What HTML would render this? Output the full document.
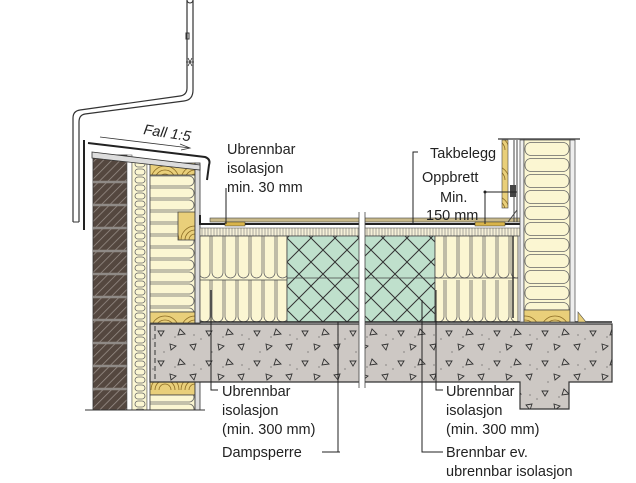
<!DOCTYPE html>
<html><head><meta charset="utf-8"><style>
html,body{margin:0;padding:0;background:#fff;width:636px;height:483px;overflow:hidden}
svg{display:block}
text{font-family:"Liberation Sans",Arial,sans-serif;font-size:14.5px;fill:#222}
</style></head><body>
<svg width="636" height="483" viewBox="0 0 636 483" xmlns="http://www.w3.org/2000/svg">
<defs>
<pattern id="brick" width="6" height="6" patternUnits="userSpaceOnUse" patternTransform="rotate(45)">
<rect width="6" height="6" fill="#54473f"/><line x1="0" y1="0" x2="0" y2="6" stroke="#9a908a" stroke-width="1.5"/>
</pattern>
<pattern id="cross" width="24" height="24" patternUnits="userSpaceOnUse" x="287" y="238">
<rect width="24" height="24" fill="#bfe0cc"/>
<path d="M0 0L24 24M24 0L0 24" stroke="#333" stroke-width="1"/>
</pattern>
<pattern id="conc" width="48" height="30" patternUnits="userSpaceOnUse" x="150" y="325">
<rect width="48" height="30" fill="#cdc8c4"/>
<path d="M8 6l6 0-3 5z M30 4l5 5-7 1z M20 19l6 2-5 4z M40 20l6-1-2 6z" fill="none" stroke="#333" stroke-width="0.9"/>
<circle cx="3" cy="14" r="0.6" fill="#555"/><circle cx="25" cy="12" r="0.6" fill="#555"/><circle cx="44" cy="10" r="0.6" fill="#555"/><circle cx="14" cy="27" r="0.6" fill="#555"/>
</pattern>
<pattern id="insV" width="13" height="44" patternUnits="userSpaceOnUse" x="198" y="236">
<rect width="13" height="44" fill="#fbf6d2"/>
<rect x="1" y="-8" width="11" height="50" rx="5.5" fill="none" stroke="#666" stroke-width="0.8"/>
</pattern>
<pattern id="insH" width="46" height="12" patternUnits="userSpaceOnUse" x="150" y="175">
<rect width="46" height="12" fill="#fbf6d2"/>
<rect x="-6" y="1" width="50" height="10" rx="5" fill="none" stroke="#666" stroke-width="0.8"/>
</pattern>
<pattern id="insS" width="14" height="8" patternUnits="userSpaceOnUse" x="133" y="160">
<rect width="14" height="8" fill="#fbf6d2"/>
<rect x="2" y="1" width="10" height="6" rx="3" fill="none" stroke="#666" stroke-width="0.8"/>
</pattern>
<pattern id="insR" width="46" height="16" patternUnits="userSpaceOnUse" x="524" y="141">
<rect width="46" height="16" fill="#fbf6d2"/>
<rect x="1" y="1.5" width="44" height="13" rx="6" fill="none" stroke="#666" stroke-width="0.8"/>
</pattern>
<pattern id="wood" width="30" height="30" patternUnits="userSpaceOnUse">
<rect width="30" height="30" fill="#e9cf7a"/>
<path d="M5 30a10 10 0 0 1 20 0M9 30a6 6 0 0 1 12 0M1 30a14 14 0 0 1 28 0" fill="none" stroke="#8a6a22" stroke-width="0.8"/>
</pattern>
<pattern id="tick" width="3" height="6" patternUnits="userSpaceOnUse">
<rect width="3" height="6" fill="#f6f0d8"/><line x1="1" y1="0" x2="1" y2="6" stroke="#777" stroke-width="0.6"/>
</pattern>
</defs>

<!-- downpipe -->
<path d="M187 0 V88 Q187 95 180 96 L80 110 Q73 111 73 118 V222" fill="none" stroke="#333" stroke-width="1.2"/>
<path d="M193 0 V90 Q193 100 184 101 L85 114 Q79 115 79 122 V222" fill="none" stroke="#333" stroke-width="1.2"/>
<line x1="73" y1="222" x2="79" y2="222" stroke="#333"/>
<rect x="186" y="33" width="3" height="6" fill="none" stroke="#333"/>
<path d="M186 62h8M188 58l4 8M192 58l-4 8" stroke="#333" stroke-width="0.8"/>
<circle cx="190" cy="0" r="3" fill="none" stroke="#333"/>

<!-- brick wall -->
<rect x="93" y="155" width="34" height="255" fill="url(#brick)" stroke="#333" stroke-width="0.8"/>
<g stroke="#8f8a86" stroke-width="2.5">
<line x1="93" y1="182" x2="127" y2="182"/><line x1="93" y1="205" x2="127" y2="205"/><line x1="93" y1="228" x2="127" y2="228"/><line x1="93" y1="251" x2="127" y2="251"/><line x1="93" y1="274" x2="127" y2="274"/><line x1="93" y1="297" x2="127" y2="297"/><line x1="93" y1="320" x2="127" y2="320"/><line x1="93" y1="343" x2="127" y2="343"/><line x1="93" y1="366" x2="127" y2="366"/><line x1="93" y1="389" x2="127" y2="389"/>
</g>
<rect x="127" y="155" width="5" height="255" fill="#fff" stroke="#555" stroke-width="0.6"/>
<rect x="132" y="160" width="15" height="250" fill="url(#insS)" stroke="#555" stroke-width="0.6"/>
<rect x="147" y="160" width="3" height="250" fill="#fff" stroke="#555" stroke-width="0.6"/>
<rect x="150" y="175" width="45" height="137" fill="url(#insH)" stroke="#444" stroke-width="0.8"/>
<rect x="150" y="163" width="45" height="12" fill="url(#wood)" stroke="#444" stroke-width="0.8"/>
<rect x="178" y="212" width="17" height="28" fill="url(#wood)" stroke="#444" stroke-width="0.8"/>
<rect x="150" y="312" width="45" height="11" fill="url(#wood)" stroke="#444" stroke-width="0.8"/>
<rect x="195" y="163" width="5" height="160" fill="#ddd" stroke="#333" stroke-width="0.8"/>
<rect x="150" y="382" width="45" height="13" fill="url(#wood)" stroke="#444" stroke-width="0.8"/>
<rect x="150" y="395" width="45" height="15" fill="url(#insH)" stroke="#444" stroke-width="0.8"/>
<rect x="195" y="382" width="5" height="28" fill="#ddd" stroke="#333" stroke-width="0.8"/>
<line x1="85" y1="410" x2="205" y2="410" stroke="#333"/>
<!-- cap -->
<path d="M88 143 L205 157 Q211 159 209 165 L207 180" fill="none" stroke="#222" stroke-width="2"/>
<path d="M92 152 L200 165 L200 170 L92 158 Z" fill="#ddd" stroke="#333" stroke-width="0.8"/>
<path d="M84 140 V230" stroke="#222" stroke-width="2"/>
<path d="M100 137 L190 148" stroke="#333" stroke-width="0.8"/>
<path d="M180 144 L190 148 L181 150" fill="none" stroke="#333" stroke-width="0.8"/>
<text transform="translate(143,134) rotate(9)" font-style="italic">Fall 1:5</text>

<!-- roof membrane -->
<path d="M200 215 V224 H520" fill="none" stroke="#222" stroke-width="2"/>
<rect x="210" y="218" width="310" height="4" fill="#c9b98a" stroke="#444" stroke-width="0.6"/>
<rect x="225" y="222" width="20" height="4" fill="#d9b44a" stroke="#333" stroke-width="0.5"/>
<rect x="475" y="222" width="30" height="4" fill="#d9b44a" stroke="#333" stroke-width="0.5"/>
<rect x="200" y="228" width="320" height="8" fill="url(#tick)" stroke="#555" stroke-width="0.6"/>
<!-- insulation roof -->
<rect x="200" y="236" width="87" height="86" fill="url(#insV)" stroke="#444" stroke-width="0.8"/>
<line x1="200" y1="280" x2="287" y2="280" stroke="#444" stroke-width="0.8"/>
<rect x="287" y="236" width="148" height="86" fill="url(#cross)" stroke="#444" stroke-width="0.8"/>
<line x1="287" y1="278" x2="435" y2="278" stroke="#444" stroke-width="0.8"/>
<rect x="435" y="236" width="83" height="86" fill="url(#insV)" stroke="#444" stroke-width="0.8"/>
<line x1="435" y1="278" x2="518" y2="278" stroke="#444" stroke-width="0.8"/>
<line x1="200" y1="322" x2="612" y2="322" stroke="#222" stroke-width="1.5"/>

<!-- concrete -->
<path d="M150 324 H612 V382 H569 V409 H520 V382 H150 Z" fill="url(#conc)" stroke="#333" stroke-width="1.2"/>
<line x1="155" y1="326" x2="155" y2="380" stroke="#333" stroke-dasharray="5,3"/>

<!-- break -->
<rect x="359" y="212" width="6" height="176" fill="#fff"/>
<line x1="359" y1="212" x2="359" y2="388" stroke="#444" stroke-width="0.8"/>
<line x1="365" y1="212" x2="365" y2="388" stroke="#444" stroke-width="0.8"/>

<!-- right wall -->
<line x1="498" y1="139" x2="580" y2="139" stroke="#333" stroke-width="1.2"/>
<rect x="502" y="140" width="6" height="68" fill="url(#wood)" stroke="#444" stroke-width="0.6"/>
<rect x="510" y="185" width="6" height="12" fill="#444"/>
<line x1="514" y1="140" x2="514" y2="222" stroke="#444"/>
<line x1="517" y1="140" x2="517" y2="222" stroke="#444"/>
<path d="M517 210 L508 222" stroke="#444"/>
<rect x="520" y="140" width="4" height="182" fill="#eee" stroke="#444" stroke-width="0.7"/>
<rect x="524" y="140" width="46" height="170" fill="url(#insR)" stroke="#444" stroke-width="0.7"/>
<rect x="524" y="310" width="46" height="12" fill="url(#wood)" stroke="#444" stroke-width="0.7"/>
<rect x="570" y="140" width="5" height="182" fill="#eee" stroke="#444" stroke-width="0.7"/>
<path d="M578 312 L586 322 H578 Z" fill="#e9cf7a" stroke="#444" stroke-width="0.6"/>
<path d="M513 236 V318" stroke="#333" stroke-width="1.5"/>

<!-- leaders -->
<g stroke="#222" stroke-width="1" fill="none">
<path d="M226 188 V224"/>
<path d="M418 152 H413 V224"/>
<path d="M517 192 H485 V224"/>
<path d="M211 290 V390 H218"/>
<path d="M340 452 H338 V322"/>
<path d="M322 452 H338"/>
<path d="M436 290 V390 H443"/>
<path d="M422 300 V452 H443"/>
</g>
<circle cx="485" cy="192" r="1.5" fill="#222"/>

<!-- labels -->
<text x="227" y="154">Ubrennbar</text>
<text x="227" y="173">isolasjon</text>
<text x="227" y="192">min. 30 mm</text>
<text x="430" y="158">Takbelegg</text>
<text x="422" y="182">Oppbrett</text>
<text x="440" y="202">Min.</text>
<text x="426" y="220">150 mm</text>
<text x="222" y="396">Ubrennbar</text>
<text x="222" y="415">isolasjon</text>
<text x="222" y="434">(min. 300 mm)</text>
<text x="222" y="457">Dampsperre</text>
<text x="446" y="396">Ubrennbar</text>
<text x="446" y="415">isolasjon</text>
<text x="446" y="434">(min. 300 mm)</text>
<text x="446" y="457">Brennbar ev.</text>
<text x="446" y="476">ubrennbar isolasjon</text>
</svg>
</body></html>
